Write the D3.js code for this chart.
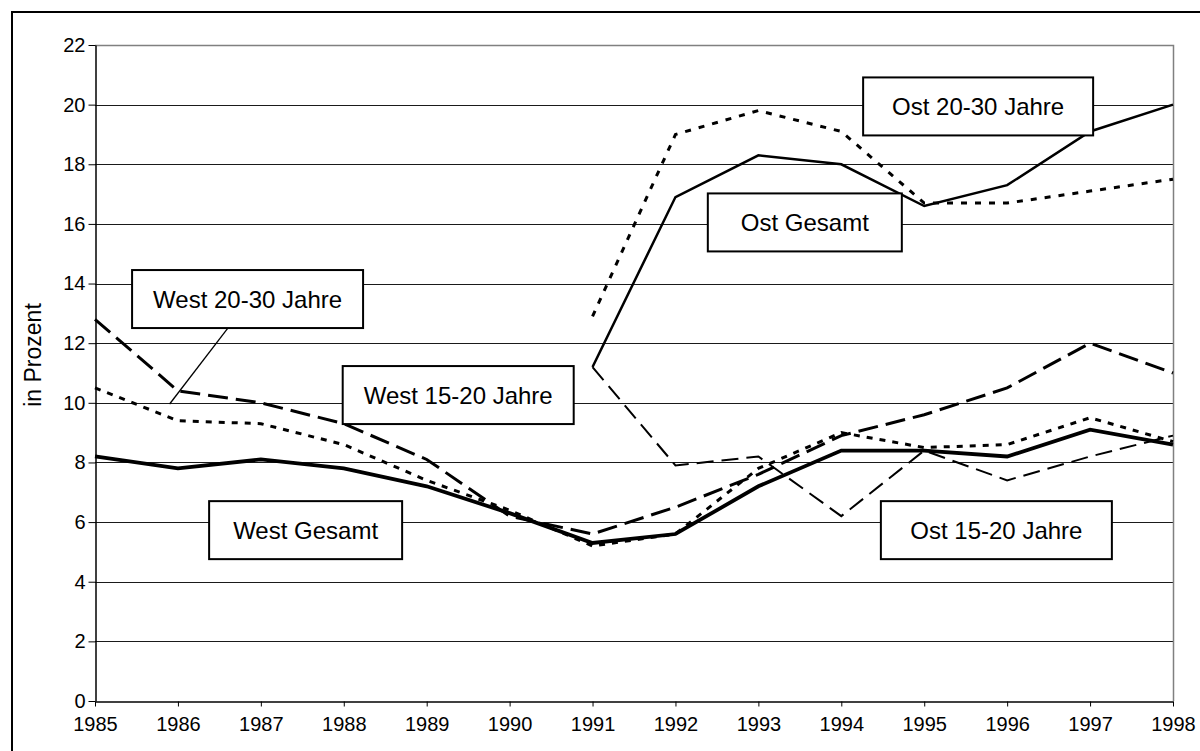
<!DOCTYPE html>
<html>
<head>
<meta charset="utf-8">
<script src="https://cdn.jsdelivr.net/npm/d3@7"></script>
<style>
  body { margin: 0; background: #fff; }
  svg text { font-family: "Liberation Sans", Arial, sans-serif; fill: #000; }
</style>
</head>
<body>
<div id="chart"></div>
<script>
// data
var years = d3.range(1985, 1999);
var yTicks = [0, 2, 4, 6, 8, 10, 12, 14, 16, 18, 20, 22];

var westGesamt = [8.2, 7.8, 8.1, 7.8, 7.2, 6.3, 5.3, 5.6, 7.2, 8.4, 8.4, 8.2, 9.1, 8.6];
var west1520   = [12.8, 10.4, 10.0, 9.3, 8.1, 6.2, 5.6, 6.5, 7.6, 8.9, 9.6, 10.5, 12.0, 11.0];
var west2030   = [10.5, 9.4, 9.3, 8.6, 7.4, 6.4, 5.2, 5.6, 7.8, 9.0, 8.5, 8.6, 9.5, 8.7];
var ostGesamt  = [null, null, null, null, null, null, 11.2, 16.9, 18.3, 18.0, 16.6, 17.3, 19.1, 20.0];
var ost1520    = [null, null, null, null, null, null, 11.2, 7.9, 8.2, 6.2, 8.4, 7.4, 8.2, 8.9];
var ost2030    = [null, null, null, null, null, null, 12.9, 19.0, 19.8, 19.1, 16.7, 16.7, 17.1, 17.5];

var labels = ["West Gesamt", "West 15-20 Jahre", "West 20-30 Jahre", "Ost Gesamt", "Ost 15-20 Jahre", "Ost 20-30 Jahre"];

var width = 1200, height = 751;

var svg = d3.select("#chart")
            .append("svg")
            .attr("width", width)
            .attr("height", height);

// outer frame (runs off the right and bottom edge)
svg.append("rect")
   .attr("x", 12).attr("y", 12)
   .attr("width", 1200).attr("height", 800)
   .attr("fill", "none")
   .attr("stroke", "#000")
   .attr("stroke-width", 2);

var x = d3.scaleLinear().domain([1985, 1998]).range([95, 1173]);
var y = d3.scaleLinear().domain([0, 22]).range([701, 45]);

// grid
svg.append("g")
   .selectAll("line")
   .data(yTicks.filter(function(d) { return d > 0 && d < 22; }))
   .enter().append("line")
   .attr("x1", x(1985)).attr("x2", x(1998))
   .attr("y1", function(d) { return Math.round(y(d)) + 0.5; })
   .attr("y2", function(d) { return Math.round(y(d)) + 0.5; })
   .attr("stroke", "#1a1a1a")
   .attr("stroke-width", 1);

// plot area border top/right in gray
svg.append("path")
   .attr("d", "M" + x(1985) + "," + (Math.round(y(22)) + 0.5) + "H" + (Math.round(x(1998)) + 0.5) + "V" + y(0))
   .attr("fill", "none")
   .attr("stroke", "#808080")
   .attr("stroke-width", 1.5);

var yAxis = svg.append("g")
               .attr("transform", "translate(" + (Math.round(x(1985)) + 0.5) + ",0)")
               .call(d3.axisLeft(y).tickValues(yTicks).tickSize(7).tickSizeOuter(0).tickPadding(3));

var xAxis = svg.append("g")
               .attr("transform", "translate(0," + (Math.round(y(0)) + 0.5) + ")")
               .call(d3.axisBottom(x).tickValues(years).tickFormat(d3.format("d")).tickSize(5).tickSizeOuter(0).tickPadding(10));

[yAxis, xAxis].forEach(function(a) {
    a.select(".domain").attr("stroke", "#000").attr("stroke-width", 1.5);
    a.selectAll(".tick line").attr("stroke", "#000");
    a.selectAll("text").style("font-size", "20px").attr("fill", "#000");
});

svg.append("text")
   .attr("transform", "translate(41,355)rotate(-90)")
   .attr("text-anchor", "middle")
   .style("font-size", "23px")
   .text("in Prozent");

// lines
var line = d3.line()
             .defined(function(d) { return d != null; })
             .x(function(d, i) { return x(years[i]); })
             .y(function(d) { return y(d); });

var series = [
    { values: westGesamt, w: 3.8, dash: null },
    { values: west1520,   w: 3,   dash: "20,8" },
    { values: west2030,   w: 3,   dash: "6,7" },
    { values: ostGesamt,  w: 2.5, dash: null },
    { values: ost1520,    w: 2,   dash: "17,8" },
    { values: ost2030,    w: 3,   dash: "6,8" }
];

svg.append("g")
   .selectAll("path")
   .data(series)
   .enter().append("path")
   .attr("d", function(d) { return line(d.values); })
   .attr("fill", "none")
   .attr("stroke", "#000")
   .attr("stroke-width", function(d) { return d.w; })
   .attr("stroke-dasharray", function(d) { return d.dash; })
   .attr("stroke-linejoin", "miter");

// label boxes, placed in chart coordinates
var notes = [
    { text: labels[0], cx: 1987.54, cy: 5.73,  w: 193 },
    { text: labels[1], cx: 1989.38, cy: 10.26, w: 231 },
    { text: labels[2], cx: 1986.84, cy: 13.48, w: 231 },
    { text: labels[3], cx: 1993.56, cy: 16.05, w: 194 },
    { text: labels[4], cx: 1995.87, cy: 5.73,  w: 231 },
    { text: labels[5], cx: 1995.65, cy: 19.94, w: 230 }
];

// leader from "West 20-30 Jahre" to its line
svg.append("line")
   .attr("x1", x(1986.6)).attr("y1", y(12.5))
   .attr("x2", x(1985.9)).attr("y2", y(9.96))
   .attr("stroke", "#000")
   .attr("stroke-width", 1.3);

var note = svg.append("g")
              .selectAll("g")
              .data(notes)
              .enter().append("g")
              .attr("transform", function(d) { return "translate(" + x(d.cx) + "," + y(d.cy) + ")"; });

note.append("rect")
    .attr("x", function(d) { return -d.w / 2; })
    .attr("y", -29)
    .attr("width", function(d) { return d.w; })
    .attr("height", 58)
    .attr("fill", "#fff")
    .attr("stroke", "#000")
    .attr("stroke-width", 2);

note.append("text")
    .attr("text-anchor", "middle")
    .attr("dy", "0.36em")
    .style("font-size", "24px")
    .text(function(d) { return d.text; });
</script>
</body>
</html>
